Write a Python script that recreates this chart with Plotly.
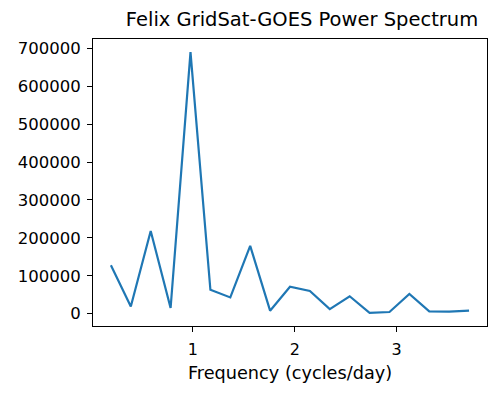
import plotly.graph_objects as go

# frequency bins (cycles/day) and spectral power
freq = [k * 25 / 128 for k in range(1, 20)]
power = [128000, 19000, 218000, 15000, 690000, 63000, 43000, 179000, 8000,
         71000, 60000, 12000, 46000, 2000, 4500, 52000, 6000, 5500, 8000]

fig = go.Figure()
fig.add_trace(go.Scatter(x=freq, y=power, mode='lines',
                         line=dict(color='#1f77b4', width=2.2)))

fig.update_layout(
    width=500, height=394,
    margin=dict(l=93, r=13, t=39, b=68),
    paper_bgcolor='white', plot_bgcolor='white',
    font=dict(family='DejaVu Sans', size=16, color='black'),
    title=dict(text='Felix GridSat-GOES Power Spectrum', x=0.604, xanchor='center',
               y=0.952, yanchor='middle', font=dict(size=19.5)),
    showlegend=False,
)
fig.update_xaxes(range=[0.0195, 3.887], tickvals=[1, 2, 3], ticks='outside',
                 ticklen=5, tickcolor='black', showline=True, linecolor='black',
                 mirror=True, showgrid=False, zeroline=False, automargin=False,
                 tickfont=dict(size=16), ticklabelstandoff=4,
                 title=dict(text='Frequency (cycles/day)', standoff=8,
                            font=dict(size=17.7)))
fig.update_yaxes(range=[-32400, 724400], tickvals=list(range(0, 700001, 100000)),
                 tickformat='d', ticks='outside', ticklen=5, tickcolor='black',
                 showline=True, linecolor='black', mirror=True, showgrid=False,
                 zeroline=False, automargin=False, tickfont=dict(size=16.5),
                 ticklabelstandoff=3)

fig.write_html("out.html", config={'displayModeBar': False},
               post_script="document.body.style.margin='0';")
